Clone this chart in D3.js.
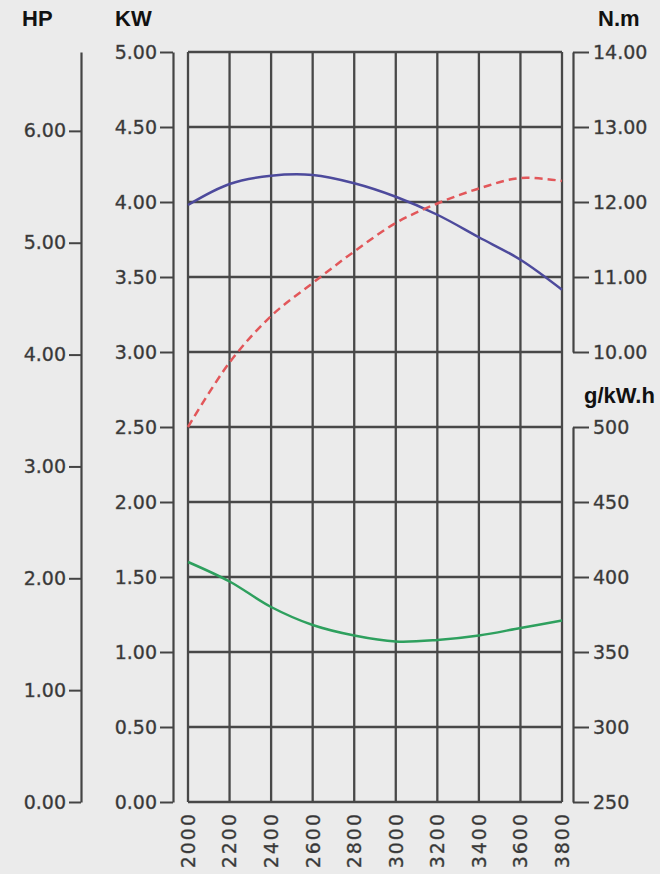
<!DOCTYPE html>
<html>
<head>
<meta charset="utf-8">
<script src="https://cdn.jsdelivr.net/npm/d3@7"></script>
<style>
  html, body { margin: 0; padding: 0; background: #ebebeb; }
  svg { display: block; }
  .tick text { font-family: "DejaVu Sans", sans-serif; font-size: 19px; fill: #333; stroke: #555; stroke-width: 0.4px; }
  .hdr { font-family: "Liberation Sans", Arial, sans-serif; font-weight: bold; font-size: 22px; fill: #111; }
</style>
</head>
<body>
<div id="chart"></div>
<script>
const svgWidth = 660;
const svgHeight = 874;

// engine speed, r/min
const rpm = [2000, 2200, 2400, 2600, 2800, 3000, 3200, 3400, 3600, 3800];
// torque N.m (blue)
const torqueNm = [11.96, 12.24, 12.35, 12.36, 12.25, 12.07, 11.83, 11.53, 11.23, 10.83];
// power KW (red dashed)
const powerKw = [2.50, 2.93, 3.24, 3.46, 3.67, 3.86, 3.99, 4.09, 4.16, 4.14];
// fuel consumption g/kW.h (green)
const fuelGkwh = [410, 397, 380, 368, 361, 357, 358, 361, 366, 371];

const kwTicks = [0, 0.5, 1, 1.5, 2, 2.5, 3, 3.5, 4, 4.5, 5];
const hpTicks = [0, 1, 2, 3, 4, 5, 6];
const nmTicks = [10, 11, 12, 13, 14];
const gTicks = [250, 300, 350, 400, 450, 500];

const gridLeft = 188, gridRight = 562, gridTop = 52, gridBottom = 802;

const svg = d3.select("#chart").append("svg")
    .attr("width", svgWidth)
    .attr("height", svgHeight);

const x = d3.scaleLinear().domain([2000, 3800]).range([gridLeft, gridRight]);
const yKw = d3.scaleLinear().domain([0, 5]).range([gridBottom, gridTop]);
const yHp = d3.scaleLinear().domain([0, 5 / 0.7457]).range([gridBottom, gridTop]);
const yNm = d3.scaleLinear().domain([10, 14]).range([352, gridTop]);
const yG = d3.scaleLinear().domain([250, 500]).range([gridBottom, 427]);

const fmt = d3.format(".2f");

// grid
const grid = svg.append("g").attr("stroke", "#484848").attr("stroke-width", 2.3);
grid.selectAll(".h").data(kwTicks).enter().append("line")
    .attr("x1", gridLeft).attr("x2", gridRight)
    .attr("y1", d => yKw(d)).attr("y2", d => yKw(d));
grid.selectAll(".v").data(rpm).enter().append("line")
    .attr("x1", d => x(d)).attr("x2", d => x(d))
    .attr("y1", gridTop).attr("y2", gridBottom);

function styleAxis(sel) {
    sel.selectAll("path.domain").attr("stroke", "#444").attr("stroke-width", 2.2);
    sel.selectAll(".tick line").attr("stroke", "#444").attr("stroke-width", 2);
    sel.attr("font-family", null).attr("font-size", null);
}

// HP axis
svg.append("g")
    .attr("transform", "translate(81,0)")
    .call(d3.axisLeft(yHp).tickValues(hpTicks).tickFormat(fmt).tickSize(12).tickSizeOuter(0).tickPadding(3))
    .call(styleAxis);

// KW axis
svg.append("g")
    .attr("transform", "translate(173,0)")
    .call(d3.axisLeft(yKw).tickValues(kwTicks).tickFormat(fmt).tickSize(13).tickSizeOuter(0).tickPadding(3))
    .call(styleAxis);

// N.m axis
svg.append("g")
    .attr("transform", "translate(573,0)")
    .call(d3.axisRight(yNm).tickValues(nmTicks).tickFormat(fmt).tickSize(16).tickSizeOuter(0).tickPadding(4))
    .call(styleAxis);

// g/kW.h axis
svg.append("g")
    .attr("transform", "translate(573,0)")
    .call(d3.axisRight(yG).tickValues(gTicks).tickFormat(d3.format("d")).tickSize(16).tickSizeOuter(0).tickPadding(4))
    .call(styleAxis);

// rpm labels, rotated
svg.append("g").attr("class", "tick").selectAll("text").data(rpm).enter().append("text")
    .attr("transform", d => `translate(${x(d)},812) rotate(-90)`)
    .attr("text-anchor", "end")
    .attr("dy", "0.36em")
    .attr("letter-spacing", 2)
    .text(d => d);

// headers
svg.append("text").attr("class", "hdr").attr("x", 22).attr("y", 26).text("HP");
svg.append("text").attr("class", "hdr").attr("x", 115).attr("y", 26).text("KW");
svg.append("text").attr("class", "hdr").attr("x", 598).attr("y", 26).text("N.m");
svg.append("text").attr("class", "hdr").attr("x", 584).attr("y", 403).text("g/kW.h");

// curves
const curve = d3.curveCatmullRom.alpha(0.5);

svg.append("path")
    .datum(rpm.map((r, i) => [r, torqueNm[i]]))
    .attr("fill", "none")
    .attr("stroke", "#4d4a9c")
    .attr("stroke-width", 2.5)
    .attr("d", d3.line().x(d => x(d[0])).y(d => yNm(d[1])).curve(curve));

svg.append("path")
    .datum(rpm.map((r, i) => [r, powerKw[i]]))
    .attr("fill", "none")
    .attr("stroke", "#e2575a")
    .attr("stroke-width", 2.5)
    .attr("stroke-dasharray", "8,5")
    .attr("d", d3.line().x(d => x(d[0])).y(d => yKw(d[1])).curve(curve));

svg.append("path")
    .datum(rpm.map((r, i) => [r, fuelGkwh[i]]))
    .attr("fill", "none")
    .attr("stroke", "#2ea05e")
    .attr("stroke-width", 2.5)
    .attr("d", d3.line().x(d => x(d[0])).y(d => yG(d[1])).curve(curve));
</script>
</body>
</html>
